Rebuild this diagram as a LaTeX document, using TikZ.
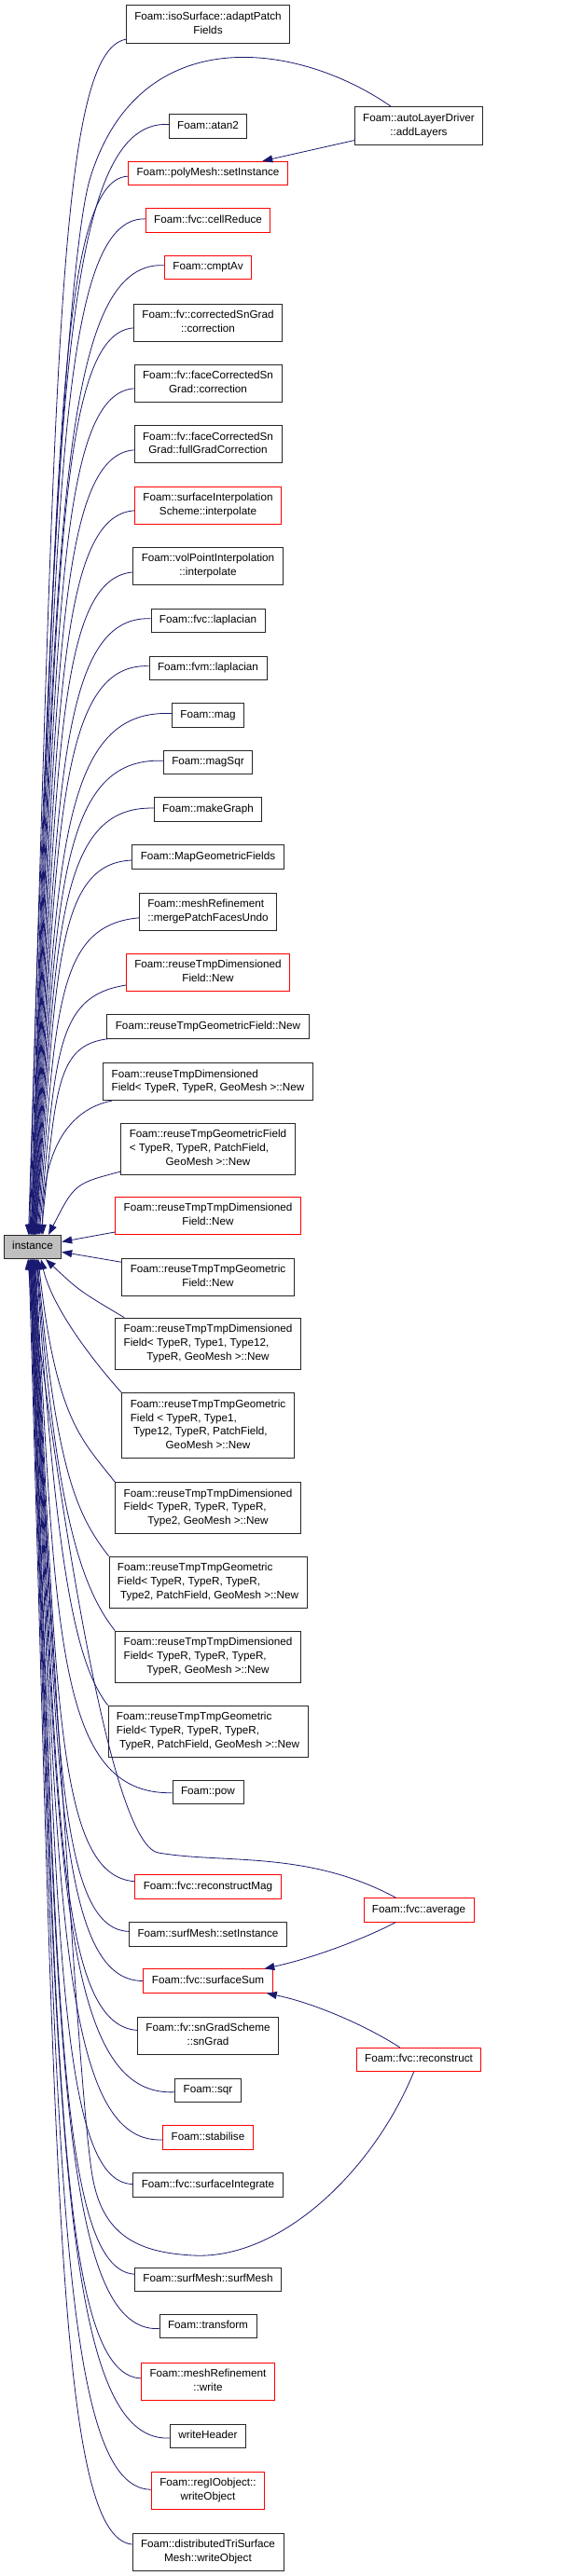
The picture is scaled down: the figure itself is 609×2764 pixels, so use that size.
\documentclass[tikz,border=0pt]{standalone}
\usepackage{fontspec}
\setmainfont{Liberation Sans}
\usetikzlibrary{arrows.meta,calc}
\definecolor{edgeblue}{RGB}{25,25,112}
\newcommand{\fname}[1]{\begin{tabular}{@{}c@{}}#1\end{tabular}}
\newcommand{\fnames}[2]{\begin{tabular}{@{}l@{}}#1\\\multicolumn{1}{@{}c@{}}{#2}\end{tabular}}

\begin{document}
\begin{tikzpicture}[
  x=1pt,y=1pt,
  >={Triangle[length=11pt,width=8pt]},
  func/.style={draw=black!85,fill=white,line width=0.8pt,inner xsep=9pt,inner ysep=5.4pt,
    font=\fontsize{11.7}{14.7}\selectfont},
  trunc/.style={func,draw=red},
  root/.style={func,fill=black!25},
  call/.style={->,color=edgeblue,line width=0.8pt}
]
\useasboundingbox (0,0) rectangle (609,-2764);
\node[func] (adapt) at (223,-26) {\fnames{Foam::isoSurface::adaptPatch}{Fields}};
\node[func] (addlayers) at (449,-135) {\fnames{Foam::autoLayerDriver}{::addLayers}};
\node[func] (atan2) at (223,-135.5) {\fname{Foam::atan2}};
\node[trunc] (setinst) at (223,-186) {\fname{Foam::polyMesh::setInstance}};
\node[trunc] (cellred) at (223,-236.5) {\fname{Foam::fvc::cellReduce}};
\node[trunc] (cmptav) at (223,-287) {\fname{Foam::cmptAv}};
\node[func] (corrsn) at (223,-346) {\fnames{Foam::fv::correctedSnGrad}{::correction}};
\node[func] (facecorr) at (223,-411) {\fnames{Foam::fv::faceCorrectedSn}{Grad::correction}};
\node[func] (facefull) at (223,-476.5) {\fnames{Foam::fv::faceCorrectedSn}{Grad::fullGradCorrection}};
\node[trunc] (sinterp) at (223,-542) {\fnames{Foam::surfaceInterpolation}{Scheme::interpolate}};
\node[func] (vpinterp) at (223,-607) {\fnames{Foam::volPointInterpolation}{::interpolate}};
\node[func] (fvclap) at (223,-666) {\fname{Foam::fvc::laplacian}};
\node[func] (fvmlap) at (223,-717) {\fname{Foam::fvm::laplacian}};
\node[func] (mag) at (223,-767.5) {\fname{Foam::mag}};
\node[func] (magsqr) at (223,-818) {\fname{Foam::magSqr}};
\node[func] (makegraph) at (223,-868.5) {\fname{Foam::makeGraph}};
\node[func] (mapgeo) at (223,-919.5) {\fname{Foam::MapGeometricFields}};
\node[func] (mergepatch) at (223,-978) {\fnames{Foam::meshRefinement}{::mergePatchFacesUndo}};
\node[trunc] (rtdf) at (223,-1043) {\fnames{Foam::reuseTmpDimensioned}{Field::New}};
\node[func] (rtgf) at (223,-1101.5) {\fname{Foam::reuseTmpGeometricField::New}};
\node[func] (rtdf2) at (223,-1160.5) {\fnames{Foam::reuseTmpDimensioned}{Field< TypeR, TypeR, GeoMesh >::New}};
\node[func] (rtgf2) at (223,-1232.5) {\fnames{Foam::reuseTmpGeometricField\\< TypeR, TypeR, PatchField,}{GeoMesh >::New}};
\node[trunc] (rttdf) at (223,-1304) {\fnames{Foam::reuseTmpTmpDimensioned}{Field::New}};
\node[root] (instance) at (35,-1338) {\fname{instance}};
\node[func] (rttgf) at (223,-1370) {\fnames{Foam::reuseTmpTmpGeometric}{Field::New}};
\node[func] (rttdf3) at (223,-1441.5) {\fnames{Foam::reuseTmpTmpDimensioned\\Field< TypeR, Type1, Type12,}{TypeR, GeoMesh >::New}};
\node[func] (rttgf4) at (223,-1529.5) {\fnames{Foam::reuseTmpTmpGeometric\\Field < TypeR, Type1,\\\ Type12, TypeR, PatchField,}{GeoMesh >::New}};
\node[func] (rttdf3b) at (223,-1618) {\fnames{Foam::reuseTmpTmpDimensioned\\Field< TypeR, TypeR, TypeR,}{Type2, GeoMesh >::New}};
\node[func] (rttgf3b) at (223,-1697.5) {\fnames{Foam::reuseTmpTmpGeometric\\Field< TypeR, TypeR, TypeR,}{\ Type2, PatchField, GeoMesh >::New}};
\node[func] (rttdf3c) at (223,-1777.5) {\fnames{Foam::reuseTmpTmpDimensioned\\Field< TypeR, TypeR, TypeR,}{TypeR, GeoMesh >::New}};
\node[func] (rttgf3c) at (223,-1857.5) {\fnames{Foam::reuseTmpTmpGeometric\\Field< TypeR, TypeR, TypeR,}{\ TypeR, PatchField, GeoMesh >::New}};
\node[func] (pow) at (223,-1923) {\fname{Foam::pow}};
\node[trunc] (recmag) at (223,-2024.5) {\fname{Foam::fvc::reconstructMag}};
\node[trunc] (average) at (449,-2049.5) {\fname{Foam::fvc::average}};
\node[func] (surfsetinst) at (223,-2075.5) {\fname{Foam::surfMesh::setInstance}};
\node[trunc] (surfsum) at (223,-2125.5) {\fname{Foam::fvc::surfaceSum}};
\node[func] (sngrad) at (223,-2184) {\fnames{Foam::fv::snGradScheme}{::snGrad}};
\node[trunc] (reconstruct) at (449,-2210) {\fname{Foam::fvc::reconstruct}};
\node[func] (sqr) at (223,-2243) {\fname{Foam::sqr}};
\node[trunc] (stabilise) at (223,-2293.5) {\fname{Foam::stabilise}};
\node[func] (surfint) at (223,-2344.5) {\fname{Foam::fvc::surfaceIntegrate}};
\node[func] (surfmesh) at (223,-2446) {\fname{Foam::surfMesh::surfMesh}};
\node[func] (transform) at (223,-2496) {\fname{Foam::transform}};
\node[trunc] (mrwrite) at (223,-2555) {\fnames{Foam::meshRefinement}{::write}};
\node[func] (writeheader) at (223,-2614) {\fname{writeHeader}};
\node[trunc] (regwrite) at (223,-2672) {\fnames{Foam::regIOobject::}{writeObject}};
\node[func] (dtswrite) at (223,-2738) {\fnames{Foam::distributedTriSurface}{Mesh::writeObject}};
\foreach \n/\dx/\k in {adapt/-4.5/-30, atan2/-3/8, setinst/-2/-6, cellred/-1.5/4, cmptav/-1/8,
    corrsn/-0.5/-12, facecorr/0/-12, facefull/0.5/-13, sinterp/1/-12, vpinterp/1.5/-14,
    fvclap/2/6, fvmlap/2.5/6, mag/3/8, magsqr/3.5/6, makegraph/4/4, mapgeo/5/-7,
    mergepatch/6/-15, rtdf/7/-26, rtgf/9/-20}
  \draw[call] (\n) .. controls ($(60,0 |- \n)+(0,\k)$) and ($(60,0 |- \n)!.3!(60,-1325)$) .. ([xshift=\dx]instance.north);
\foreach \n/\dx/\k in {pow/3/-3, recmag/2.5/12, surfsetinst/2/6, surfsum/1.5/0, sngrad/1/12,
    sqr/0.5/-8, stabilise/0/-8, surfint/-0.5/2, surfmesh/-1/12, transform/-1.5/-8,
    mrwrite/-2/7, writeheader/-2.5/-8, regwrite/-3/2, dtswrite/-4/16}
  \draw[call] (\n) .. controls ($(60,0 |- \n)+(0,\k)$) and ($(60,0 |- \n)!.3!(60,-1351)$) .. ([xshift=\dx]instance.south);
\foreach \n/\dx in {rttdf3b/6, rttgf3b/5, rttdf3c/4.5, rttgf3c/4}
  \draw[call] (\n.north west) .. controls +(-35,45) and ($(60,0 |- \n)!.35!(60,-1351)$) .. ([xshift=\dx]instance.south);
\draw[call] (addlayers) .. controls (320,-45) and (150,-20) .. (97,-190) .. controls (67,-285) and (42,-900) .. ([xshift=-3.5]instance.north);
\draw[call] (addlayers) -- (setinst);
\draw[call] (rtdf2) .. controls (50,-1195) and (45,-1280) .. ([xshift=11]instance.north);
\draw[call] (rtgf2) .. controls (80,-1270) .. ([xshift=17]instance.north);
\draw[call] (rttdf) -- (instance);
\draw[call] (rttgf) -- (instance);
\draw[call] ([xshift=10]rttdf3.north west) .. controls (85,-1385) .. ([xshift=14]instance.south);
\draw[call] (rttgf4.north west) .. controls (95,-1455) and (55,-1400) .. ([xshift=9]instance.south);
\draw[call] (average) .. controls (330,-1985) and (240,-2000) .. (170,-1988) .. controls (110,-1978) and (50,-1500) .. ([xshift=-4.5]instance.south);
\draw[call] (reconstruct) .. controls (400,-2330) and (300,-2425) .. (207,-2420) .. controls (150,-2417) and (112,-2400) .. (100,-2340) .. controls (85,-2270) and (55,-1700) .. ([xshift=-5]instance.south);
\draw[call] (average) .. controls (395,-2078) and (340,-2100) .. (surfsum);
\draw[call] (reconstruct) .. controls (395,-2175) and (340,-2150) .. (surfsum);
\end{tikzpicture}
\end{document}
